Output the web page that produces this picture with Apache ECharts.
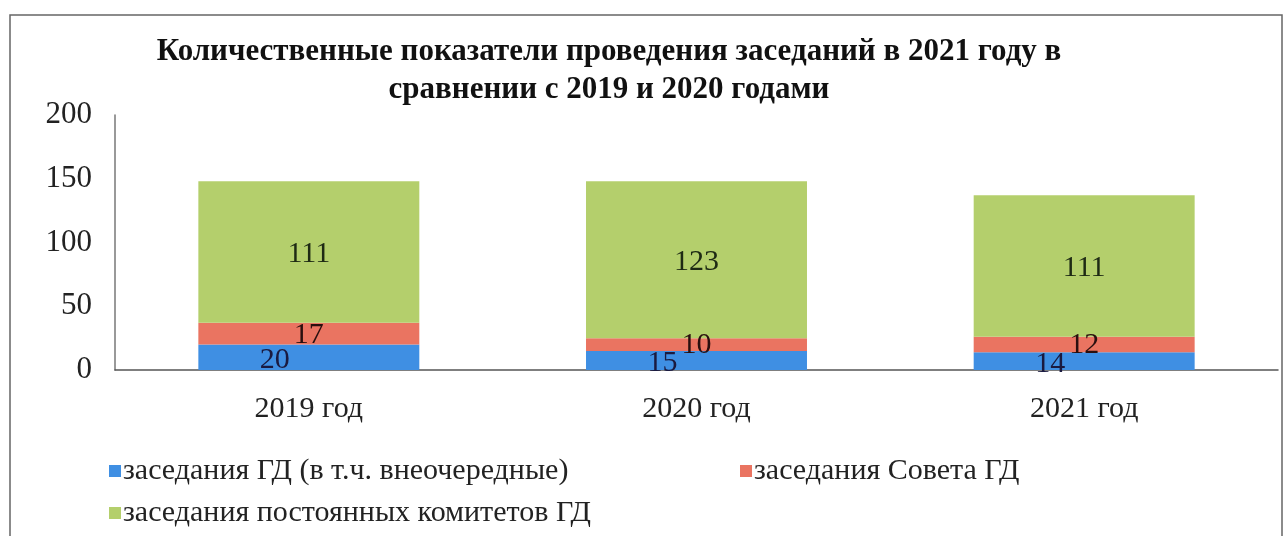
<!DOCTYPE html>
<html><head><meta charset="utf-8">
<script src="https://cdn.jsdelivr.net/npm/echarts@6/dist/echarts.min.js"></script>
<style>html,body{margin:0;padding:0;background:#fff}#c{width:1287px;height:536px}</style>
</head><body><div id="c"></div>
<script>
const categories = ['2019 год', '2020 год', '2021 год'];
const seriesNames = ['заседания ГД (в т.ч. внеочередные)', 'заседания Совета ГД', 'заседания постоянных комитетов ГД'];
const gdSessions = [20, 15, 14];
const councilSessions = [17, 10, 12];
const committeeSessions = [111, 123, 111];
const yTicks = {min: 0, max: 200, interval: 50};
const titleText = 'Количественные показатели проведения заседаний в 2021 году в\nсравнении с 2019 и 2020 годами';

const FONT = '"Liberation Serif", "DejaVu Serif", serif';
const colors = ['#3f8fe3', '#ea7461', '#b4cf6c'];
const chart = echarts.init(document.getElementById('c'));
function lbl(offset, color) {
  return {show: true, position: 'inside', offset: offset, color: color, fontFamily: FONT, fontSize: 30};
}
chart.setOption({
  animation: false,
  backgroundColor: '#fff',
  graphic: [{type: 'rect', shape: {x: 10, y: 15, width: 1272, height: 560},
    style: {fill: 'none', stroke: '#666', lineWidth: 1.5}, z: 0}],
  title: {text: titleText, left: 604, top: 28, textAlign: 'center',
    textStyle: {fontFamily: FONT, fontWeight: 'bold', fontSize: 31, color: '#111', lineHeight: 38}},
  legend: [
    {data: [seriesNames[0], seriesNames[2]], orient: 'vertical', left: 104, top: 451, itemGap: 12,
      itemWidth: 12, itemHeight: 12, icon: 'rect',
      textStyle: {fontFamily: FONT, fontSize: 30, color: '#222', padding: [0, 0, 0, -3]}},
    {data: [seriesNames[1]], orient: 'vertical', left: 735, top: 451,
      itemWidth: 12, itemHeight: 12, icon: 'rect',
      textStyle: {fontFamily: FONT, fontSize: 30, color: '#222', padding: [0, 0, 0, -3]}}
  ],
  grid: {left: 115, right: 9, top: 115, bottom: 166},
  xAxis: {type: 'category', data: categories,
    axisLine: {lineStyle: {color: '#555', width: 1.5}}, axisTick: {show: false},
    axisLabel: {fontFamily: FONT, fontSize: 30, color: '#222', margin: 24}},
  yAxis: {type: 'value', min: yTicks.min, max: yTicks.max, interval: yTicks.interval,
    axisLine: {show: true, lineStyle: {color: '#777', width: 1.5}}, axisTick: {show: false},
    splitLine: {show: false},
    axisLabel: {fontFamily: FONT, fontSize: 31, color: '#222', margin: 23}},
  series: [
    {name: seriesNames[0], type: 'bar', stack: 't', data: gdSessions, barWidth: '57%',
      itemStyle: {color: colors[0]}, label: lbl([-34, 3], '#1a1a40')},
    {name: seriesNames[1], type: 'bar', stack: 't', data: councilSessions,
      itemStyle: {color: colors[1]}, label: lbl([0, 1], '#2a0f0f')},
    {name: seriesNames[2], type: 'bar', stack: 't', data: committeeSessions,
      itemStyle: {color: colors[2]}, label: lbl([0, 2], '#1e2a14')}
  ]
});
</script></body></html>
